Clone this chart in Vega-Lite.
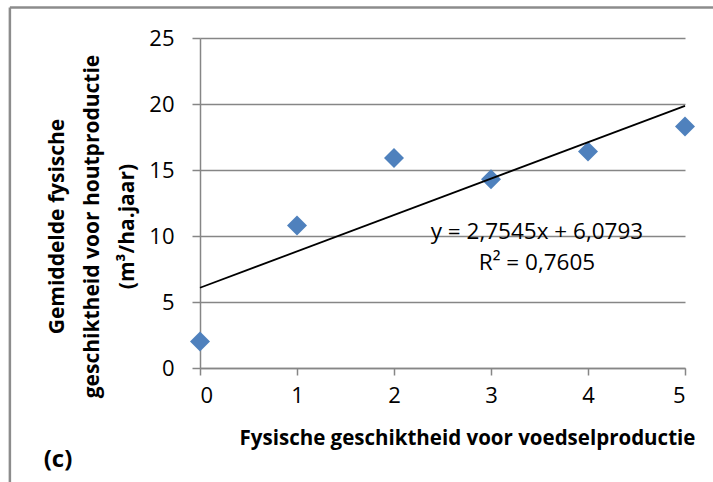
{
  "$schema": "https://vega.github.io/schema/vega-lite/v6.json",
  "autosize": {"type": "none"},
  "width": 485,
  "height": 330,
  "padding": {"left": 200, "top": 38, "right": 28, "bottom": 114},
  "background": "white",
  "config": {"view": {"stroke": null}, "font": "Open Sans"},
  "datasets": {
    "points": [
      {"x": 0, "y": 2.0},
      {"x": 1, "y": 10.8},
      {"x": 2, "y": 15.9},
      {"x": 3, "y": 14.3},
      {"x": 4, "y": 16.4},
      {"x": 5, "y": 18.3}
    ],
    "trend": [
      {"x": 0, "y": 6.0793},
      {"x": 5, "y": 19.8518}
    ],
    "labels": [
      {"x": 3.474, "y": 10.3, "t": "y = 2,7545x + 6,0793"},
      {"x": 3.474, "y": 7.95, "t": "R² = 0,7605"}
    ],
    "tag": [
      {"x": -1.464, "y": -7.0, "t": "(c)"}
    ],
    "frame": [
      {"x": -1.96, "y": 27.31, "x2": 5.3, "y2": 27.31},
      {"x": -1.96, "y": 27.31, "x2": -1.96, "y2": -8.7}
    ]
  },
  "layer": [
    {
      "data": {"name": "frame"},
      "mark": {"type": "rule", "color": "#8c8c8c", "strokeWidth": 2.5},
      "encoding": {
        "x": {"field": "x", "type": "quantitative", "scale": {"domain": [0, 5], "nice": false}},
        "y": {"field": "y", "type": "quantitative", "scale": {"domain": [0, 25], "nice": false}},
        "x2": {"field": "x2"},
        "y2": {"field": "y2"}
      }
    },
    {
      "data": {"name": "points"},
      "mark": {"type": "point", "shape": "diamond", "filled": true, "size": 400, "color": "#4F81BD", "opacity": 1},
      "encoding": {
        "x": {
          "field": "x", "type": "quantitative",
          "scale": {"domain": [0, 5], "nice": false},
          "axis": {
            "values": [0, 1, 2, 3, 4, 5],
            "format": "d",
            "grid": false,
            "domainColor": "#868686", "domainWidth": 1.5,
            "tickColor": "#868686", "tickWidth": 1.5, "tickSize": 7,
            "labelFontSize": 22, "labelColor": "#000", "labelPadding": 10, "labelFont": "Open Sans",
            "title": "Fysische geschiktheid voor voedselproductie",
            "titleFontSize": 20.5, "titleFontWeight": "bold", "titleColor": "#000", "titleFont": "Open Sans",
            "titlePadding": 22, "titleX": 267, "titleAnchor": "middle"
          }
        },
        "y": {
          "field": "y", "type": "quantitative",
          "scale": {"domain": [0, 25], "nice": false},
          "axis": {
            "values": [0, 5, 10, 15, 20, 25],
            "grid": true, "gridColor": "#868686", "gridWidth": 1.5,
            "domainColor": "#868686", "domainWidth": 1.5,
            "tickColor": "#868686", "tickWidth": 1.5, "tickSize": 8,
            "labelFontSize": 22, "labelColor": "#000", "labelPadding": 18, "labelFont": "Open Sans",
            "title": ["Gemiddelde fysische", "geschiktheid voor houtproductie", "(m³/ha.jaar)"],
            "titleFontSize": 21, "titleFontWeight": "bold", "titleColor": "#000", "titleFont": "Open Sans",
            "titleLineHeight": 35,
            "titleX": -143, "titleY": 188, "titleAngle": -90, "titleAlign": "center", "titleBaseline": "middle"
          }
        }
      }
    },
    {
      "data": {"name": "trend"},
      "mark": {"type": "line", "color": "#000", "strokeWidth": 1.8},
      "encoding": {
        "x": {"field": "x", "type": "quantitative"},
        "y": {"field": "y", "type": "quantitative"}
      }
    },
    {
      "data": {"name": "labels"},
      "mark": {"type": "text", "fontSize": 22.5, "color": "#000", "align": "center", "baseline": "middle", "font": "Open Sans"},
      "encoding": {
        "x": {"field": "x", "type": "quantitative"},
        "y": {"field": "y", "type": "quantitative"},
        "text": {"field": "t"}
      }
    },
    {
      "data": {"name": "tag"},
      "mark": {"type": "text", "fontSize": 24, "fontWeight": "bold", "color": "#000", "align": "center", "baseline": "middle", "font": "Open Sans"},
      "encoding": {
        "x": {"field": "x", "type": "quantitative"},
        "y": {"field": "y", "type": "quantitative"},
        "text": {"field": "t"}
      }
    }
  ]
}
